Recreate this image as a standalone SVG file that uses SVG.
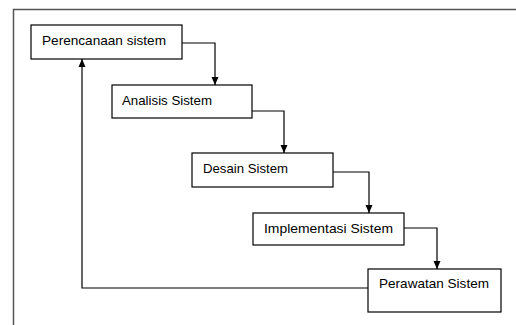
<svg xmlns="http://www.w3.org/2000/svg" width="516" height="325" viewBox="0 0 516 325">
<style>
.box{fill:#fff;stroke:#000;stroke-width:1.2}
.lbl{font-family:"Liberation Sans",Arial,sans-serif;font-size:13.5px;fill:#000}
.con{fill:none;stroke:#000;stroke-width:1.2}
</style>
<defs>
<marker id="ah" viewBox="0 0 8 8" refX="8" refY="4" markerWidth="8" markerHeight="8" markerUnits="userSpaceOnUse" orient="auto">
<path d="M0,0.5 L8,4 L0,7.5 Z" fill="#000"/>
</marker>
</defs>
<rect width="516" height="325" fill="#fff"/>
<path d="M13.5,330 V9.5 H520" fill="none" stroke="#555" stroke-width="1.5"/>
<g id="connectors">
<path class="con" d="M182,43 H215 V85" marker-end="url(#ah)"/>
<path class="con" d="M252,111 H284 V153" marker-end="url(#ah)"/>
<path class="con" d="M333,172 H369 V213" marker-end="url(#ah)"/>
<path class="con" d="M404,228 H437 V269" marker-end="url(#ah)"/>
<path class="con" d="M368,288 H82 V59" marker-end="url(#ah)"/>
</g>
<g id="n1"><rect class="box" x="31" y="25" width="151" height="34"/><text class="lbl" x="42" y="44.5" textLength="124" lengthAdjust="spacingAndGlyphs">Perencanaan sistem</text></g>
<g id="n2"><rect class="box" x="112" y="85" width="140" height="33"/><text class="lbl" x="122" y="104.5" textLength="90" lengthAdjust="spacingAndGlyphs">Analisis Sistem</text></g>
<g id="n3"><rect class="box" x="192" y="153" width="141" height="34"/><text class="lbl" x="203" y="172.5" textLength="85" lengthAdjust="spacingAndGlyphs">Desain Sistem</text></g>
<g id="n4"><rect class="box" x="253" y="213" width="151" height="32"/><text class="lbl" x="264" y="232.5" textLength="129" lengthAdjust="spacingAndGlyphs">Implementasi Sistem</text></g>
<g id="n5"><rect class="box" x="368" y="269" width="133" height="43"/><text class="lbl" x="379" y="288" textLength="110" lengthAdjust="spacingAndGlyphs">Perawatan Sistem</text></g>
</svg>
